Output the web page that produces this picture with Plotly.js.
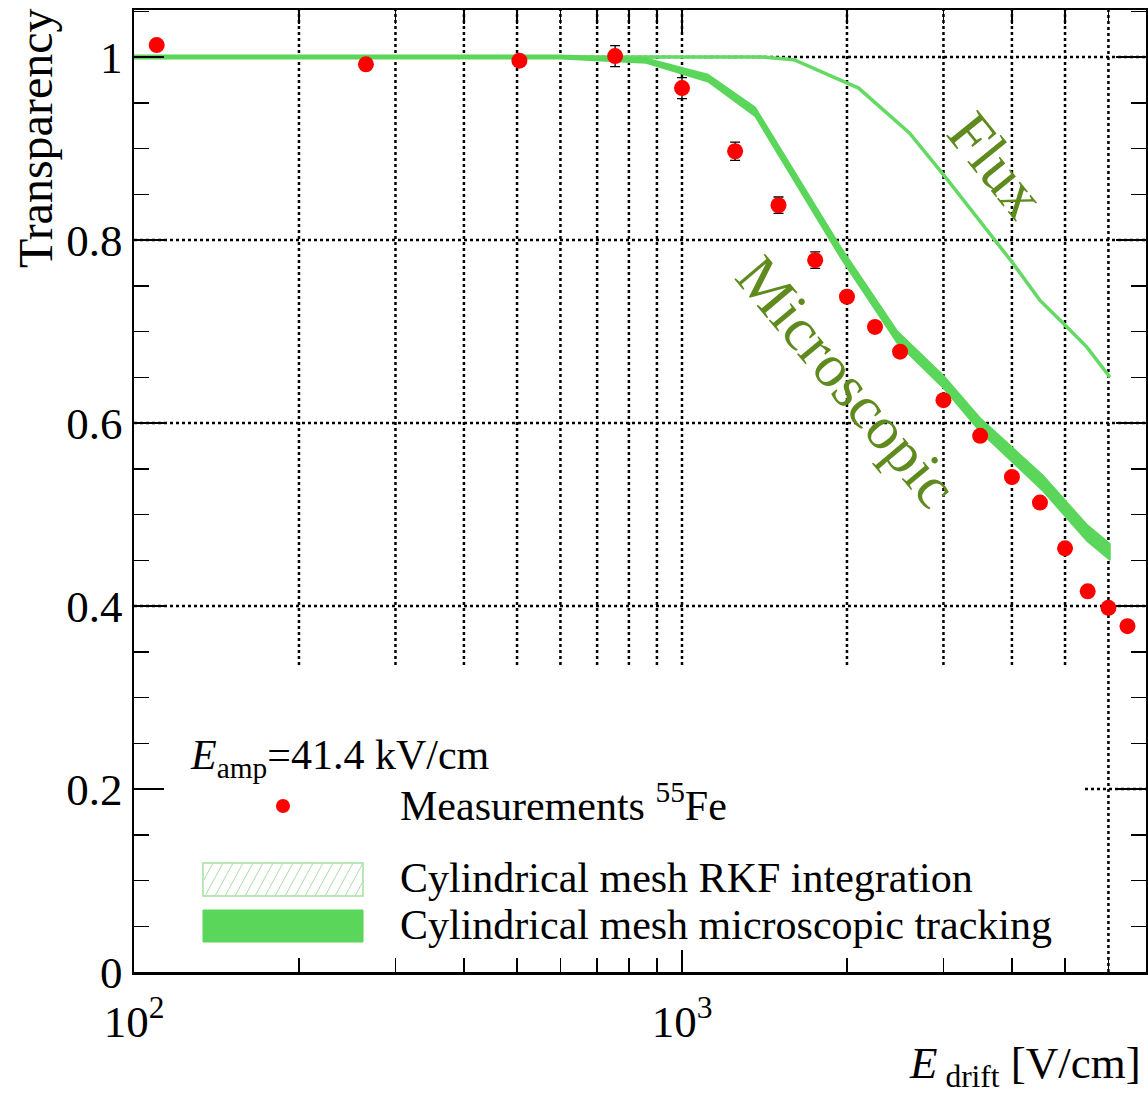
<!DOCTYPE html>
<html><head><meta charset="utf-8">
<script src="https://cdn.plot.ly/plotly-3.0.1.min.js"></script>
<style>html,body{margin:0;padding:0;background:#fff;} #chart{width:1148px;height:1093px;}</style>
</head><body><div id="chart"></div>
<script>
// ---- data ----
const measX = [110, 265, 505, 755, 1000, 1250, 1500, 1750, 2000, 2250, 2500, 3000, 3500, 4000, 4500, 5000, 5500, 6000, 6500];
const measY = [1.013, 0.992, 0.996, 1.001, 0.966, 0.897, 0.838, 0.778, 0.738, 0.705, 0.678, 0.625, 0.586, 0.541, 0.513, 0.463, 0.416, 0.398, 0.378];
const measErr = [0.003, 0.003, 0.004, 0.0115, 0.0115, 0.010, 0.009, 0.009, 0.006, 0.005, 0.005, 0.005, 0.005, 0.005, 0.005, 0.005, 0.005, 0.005, 0.005];

const microX = [100, 600, 860, 1115, 1360, 1950, 2470, 3000, 3500, 4020, 4560, 5480, 6040];
const microY = [1.0, 1.0, 0.996, 0.977, 0.940, 0.786, 0.694, 0.645, 0.598, 0.565, 0.534, 0.480, 0.459];
const microHalf = [0.002, 0.002, 0.0025, 0.004, 0.005, 0.006, 0.0065, 0.007, 0.0075, 0.008, 0.0085, 0.009, 0.009];

const fluxX = [100, 1400, 1600, 2100, 2600, 3050, 4000, 4500, 5040, 5480, 6040];
const fluxY = [1.0, 1.0, 0.997, 0.966, 0.917, 0.866, 0.776, 0.734, 0.705, 0.683, 0.650];

const xMajorTicks = [100, 1000];
const xMajorText = ['10<sup>2</sup>', '10<sup>3</sup>'];
const xMinorTicks = [200, 300, 400, 500, 600, 700, 800, 900, 2000, 3000, 4000, 5000, 6000];
const yTicks = [0, 0.2, 0.4, 0.6, 0.8, 1];
const yTickText = ['0', '0.2', '0.4', '0.6', '0.8', '1'];

// ---- styling ----
const FONT = "'Liberation Serif', 'Times New Roman', serif";
const BAND = '#5ad65a';
const FLUX = '#64d964';
const OLIVE = '#5f8a1e';
const W = 1148, H = 1093;
const L = 134, R = 1146, T = 10, B = 972;
const DEC = 548, UNIT = 915;
const px = x => (x - L) / (R - L);
const py = y => (B - y) / (B - T);
const xMaxLog = 2 + (R - L) / DEC;
const yMax = (B - T) / UNIT;
// axis value -> domain fraction (used only for the grid shapes)
const xd = v => (Math.log10(v) - 2) / (xMaxLog - 2);
const yd = v => v / yMax;
// legend box (white area without grid), in domain fractions
const boxX = px(1085);
const boxY = py(665);

const traces = [
  {x: fluxX, y: fluxY, type: 'scatter', mode: 'lines', line: {color: FLUX, width: 3.5}, hoverinfo: 'skip'},
  {x: microX.concat(microX.slice().reverse()),
   y: microY.map((v, i) => v + microHalf[i]).concat(microY.map((v, i) => v - microHalf[i]).reverse()),
   type: 'scatter', mode: 'lines', fill: 'toself', fillcolor: BAND, line: {color: BAND, width: 1.5}, hoverinfo: 'skip'},
  {x: measX, y: measY, type: 'scatter', mode: 'markers',
   marker: {color: '#ff0000', size: 16},
   error_y: {type: 'data', array: measErr, color: '#000', thickness: 1.3, width: 5}}
];

const shapes = [];
const gridLine = {color: '#000', width: 2.5, dash: 'dot'};
// vertical grid lines, interrupted by the legend box
xMinorTicks.concat([1000]).forEach(v => {
  const f = xd(v);
  shapes.push({type: 'line', xref: 'x domain', yref: 'y domain', layer: 'below', x0: f, x1: f,
    y0: f > boxX ? 0 : boxY, y1: 1, line: gridLine});
});
// horizontal grid lines
yTicks.filter(v => v > 0).forEach(v => {
  const f = yd(v);
  shapes.push({type: 'line', xref: 'x domain', yref: 'y domain', layer: 'below', y0: f, y1: f,
    x0: f < boxY ? boxX : 0, x1: 1, line: gridLine});
});
// legend marker
shapes.push({type: 'circle', xref: 'paper', yref: 'paper', x0: px(276), x1: px(290), y0: py(813), y1: py(799),
  fillcolor: '#ff0000', line: {width: 0}});
// hatched box
const hx0 = 203, hx1 = 363, hy0 = 863, hy1 = 896, slant = 18;
shapes.push({type: 'rect', xref: 'paper', yref: 'paper', x0: px(hx0), x1: px(hx1), y0: py(hy1), y1: py(hy0),
  fillcolor: '#fff', line: {color: '#a3e0a3', width: 1.5}});
let path = '';
for (let s = hx0 - slant; s < hx1; s += 10) {
  let t0 = 0, t1 = 1;
  if (s < hx0) t0 = (hx0 - s) / slant;
  if (s + slant > hx1) t1 = (hx1 - s) / slant;
  const xa = s + slant * t0, ya = hy1 - (hy1 - hy0) * t0;
  const xb = s + slant * t1, yb = hy1 - (hy1 - hy0) * t1;
  path += `M${px(xa)},${py(ya)}L${px(xb)},${py(yb)}`;
}
shapes.push({type: 'path', xref: 'paper', yref: 'paper', path: path, line: {color: '#a8e2a8', width: 1}});
// solid box
shapes.push({type: 'rect', xref: 'paper', yref: 'paper', x0: px(203), x1: px(363), y0: py(942), y1: py(910),
  fillcolor: BAND, line: {color: BAND, width: 1}});

const ann = (text, x, y, opts) => Object.assign({text: text, xref: 'paper', yref: 'paper', x: px(x), y: py(y),
  showarrow: false, xanchor: 'left', yanchor: 'middle', font: {family: FONT, size: 42, color: '#000'}}, opts || {});

const annotations = [
  ann('Transparency', 35, 138, {textangle: -90, xanchor: 'center', font: {family: FONT, size: 48, color: '#000'}}),
  ann('<i>E</i><sub> drift</sub> [V/cm]', 1143, 1066, {xanchor: 'right', font: {family: FONT, size: 45, color: '#000'}}),
  ann('<i>E</i><sub>amp</sub>=41.4 kV/cm', 188, 758),
  ann('Measurements <sup>55</sup>Fe', 398, 802),
  ann('Cylindrical mesh RKF integration', 398, 878),
  ann('Cylindrical mesh microscopic tracking', 398, 925),
  ann('Flux', 997, 165, {xanchor: 'center', textangle: 51, font: {family: FONT, size: 62, color: OLIVE}}),
  ann('Microscopic', 847, 381, {xanchor: 'center', textangle: 50, font: {family: FONT, size: 61, color: OLIVE}})
];

const layout = {
  width: W, height: H,
  margin: {l: L, r: W - R, t: T, b: H - B, pad: 0},
  paper_bgcolor: '#fff', plot_bgcolor: 'rgba(0,0,0,0)',
  showlegend: false,
  font: {family: FONT, color: '#000'},
  xaxis: {
    type: 'log', range: [2, xMaxLog], autorange: false,
    tickmode: 'array', tickvals: xMajorTicks, ticktext: xMajorText,
    ticks: 'inside', ticklen: 22, tickwidth: 2, tickcolor: '#000',
    showgrid: false,
    minor: {tickmode: 'array', tickvals: xMinorTicks, ticks: 'inside', ticklen: 14, tickwidth: 1.5, tickcolor: '#000',
      showgrid: false},
    showline: true, linecolor: '#000', linewidth: 2.5, mirror: 'allticks', zeroline: false,
    tickfont: {family: FONT, size: 45, color: '#000'}, ticklabelstandoff: 8
  },
  yaxis: {
    range: [0, yMax], autorange: false,
    tickmode: 'array', tickvals: yTicks, ticktext: yTickText,
    ticks: 'inside', ticklen: 30, tickwidth: 2, tickcolor: '#000',
    showgrid: false,
    minor: {dtick: 0.05, tick0: 0, ticks: 'inside', ticklen: 15, tickwidth: 1.5, tickcolor: '#000', showgrid: false},
    showline: true, linecolor: '#000', linewidth: 2.5, mirror: 'allticks', zeroline: false,
    tickfont: {family: FONT, size: 45, color: '#000'}
  },
  shapes: shapes,
  annotations: annotations
};

Plotly.newPlot('chart', traces, layout, {staticPlot: true, displayModeBar: false});
</script>
</body></html>
